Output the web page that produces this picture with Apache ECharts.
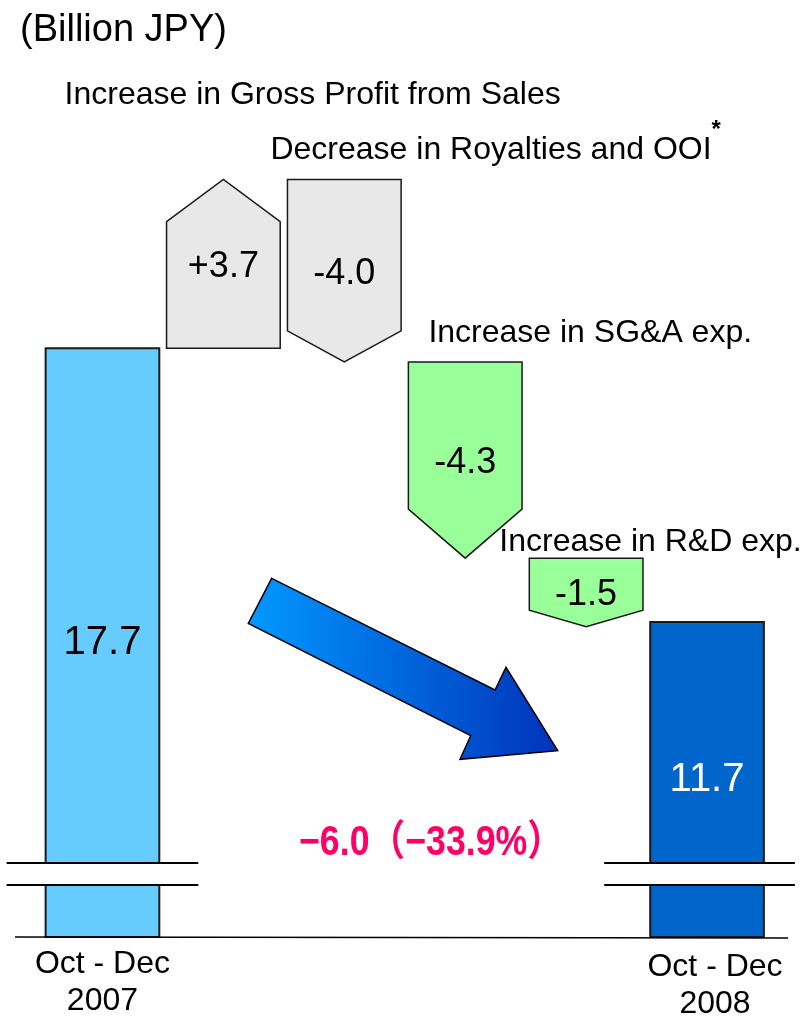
<!DOCTYPE html>
<html>
<head>
<meta charset="utf-8">
<script src="https://cdn.jsdelivr.net/npm/echarts@6/dist/echarts.min.js"></script>
<style>
  html, body { margin: 0; padding: 0; background: #fff; }
  #chart { width: 804px; height: 1021px; }
</style>
</head>
<body>
<div id="chart"></div>
<script>
// values (Billion JPY)
var categories = ['Oct - Dec\n2007', 'Gross Profit', 'Royalties and OOI', 'SG&A exp.', 'R&D exp.', 'Oct - Dec\n2008'];
var startTotal = 17.7;
var endTotal = 11.7;
var stepValues = [3.7, -4.0, -4.3, -1.5];
var stepTitles = ['Increase in Gross Profit from Sales', 'Decrease in Royalties and OOI', 'Increase in SG&A exp.', 'Increase in R&D exp.'];
var changeText = '\u22126.0\uff08\u221233.9%\uff09';

var Y_MIN = 4.8, Y_MAX = 22;
var FONT = '"Liberation Sans", Arial, sans-serif';

// look of the step arrows
var stepColors = ['#e8e8e8', '#e8e8e8', '#99ff99', '#99ff99'];
var headRatio = [0.25, 0.17, 0.25, 0.24];
var titleOffset = [[-102, -84], [-17, -29], [20, -29], [-30, -16]]; // from arrow left / top
var breakReach = [[39, 39], [46, 31]]; // break lines beyond bar edges (left, right)

// rows: [category index, from, to, kind(0 total / 1 step), step index]
var rows = [[0, Y_MIN, startTotal, 0, -1]];
var level = startTotal;
stepValues.forEach(function (v, i) {
    rows.push([i + 1, level, level + v, 1, i]);
    level += v;
});
rows.push([5, Y_MIN, endTotal, 0, -1]);

function renderItem(params, api) {
    var x = api.value(0), from = api.value(1), to = api.value(2);
    var kind = api.value(3), si = api.value(4);
    var w = api.size([1, 0])[0] * 0.94;
    var p0 = api.coord([x, from]);
    var cx = p0[0], yFrom = p0[1], yTo = api.coord([x, to])[1];
    var l = cx - w / 2, r = cx + w / 2;
    var children = [];

    if (kind === 0) {
        var isLast = x === 5;
        var reach = breakReach[isLast ? 1 : 0];
        children.push({
            type: 'rect',
            shape: { x: l, y: yTo, width: w, height: yFrom - yTo },
            style: { fill: isLast ? '#0066cc' : '#66ccff', stroke: '#1a1a1a', lineWidth: 2 }
        });
        // axis break
        var b1 = yFrom - 74, b2 = yFrom - 52;
        children.push({
            type: 'rect',
            shape: { x: l - 2, y: b1, width: w + 4, height: b2 - b1 },
            style: { fill: '#fff' }
        });
        [b1, b2].forEach(function (yy) {
            children.push({
                type: 'line',
                shape: { x1: l - reach[0], y1: yy, x2: r + reach[1], y2: yy },
                style: { stroke: '#000', lineWidth: 2 }
            });
        });
        children.push({
            type: 'text',
            x: cx, y: (yTo + yFrom) / 2,
            style: {
                text: to.toFixed(1), fill: isLast ? '#fff' : '#000',
                font: '40px ' + FONT, align: 'center', verticalAlign: 'middle'
            }
        });
    } else {
        var span = Math.abs(yFrom - yTo);
        var head = span * headRatio[si];
        var pts, top;
        if (to > from) {
            top = yTo;
            pts = [[l, yFrom], [l, yTo + head], [cx, yTo], [r, yTo + head], [r, yFrom]];
        } else {
            top = yFrom;
            pts = [[l, yFrom], [r, yFrom], [r, yTo - head], [cx, yTo], [l, yTo - head]];
        }
        children.push({
            type: 'polygon',
            shape: { points: pts },
            style: { fill: stepColors[si], stroke: '#1a1a1a', lineWidth: 1.5 }
        });
        var v = stepValues[si];
        children.push({
            type: 'text',
            x: cx, y: (yFrom + yTo) / 2 + 3,
            style: {
                text: (v > 0 ? '+' : '') + v.toFixed(1), fill: '#000',
                font: '36px ' + FONT, align: 'center', verticalAlign: 'middle'
            }
        });
        var tt = si === 1 ? '{t|' + stepTitles[si] + '}{s|*}' : '{t|' + stepTitles[si] + '}';
        children.push({
            type: 'text',
            x: l + titleOffset[si][0], y: top + titleOffset[si][1],
            style: {
                text: tt, align: 'left', verticalAlign: 'middle',
                rich: {
                    t: { fontSize: 32, fontFamily: FONT, color: '#000', lineHeight: 64 },
                    s: { fontSize: 24, fontWeight: 'bold', fontFamily: FONT, color: '#000', verticalAlign: 'top', lineHeight: 24 }
                }
            }
        });
    }
    return { type: 'group', children: children };
}

var chart = echarts.init(document.getElementById('chart'));
var option = {
    animation: false,
    backgroundColor: '#fff',
    grid: { left: 42, right: 36.5, top: 152, bottom: 84 },
    xAxis: {
        type: 'category',
        data: categories,
        axisLine: { show: false },
        axisTick: { show: false },
        axisLabel: {
            interval: 0,
            margin: 9,
            formatter: function (val, idx) {
                if (idx === 0) return '{a|Oct - Dec}\n{a|2007}';
                if (idx === 5) return '{b|Oct - Dec}\n{b|2008}';
                return '';
            },
            rich: {
                a: { fontSize: 32, fontFamily: FONT, color: '#000', lineHeight: 37 },
                b: { fontSize: 32, fontFamily: FONT, color: '#000', lineHeight: 37, padding: [5, 0, 0, 16] }
            }
        }
    },
    yAxis: {
        type: 'value', min: Y_MIN, max: Y_MAX,
        show: false, splitLine: { show: false }
    },
    series: [{
        type: 'custom',
        renderItem: renderItem,
        encode: { x: 0, y: [1, 2] },
        data: rows,
        z: 3
    }],
    graphic: [
        {
            type: 'text', left: 20, top: 12,
            style: { text: '(Billion JPY)', font: '38px ' + FONT, fill: '#000' }
        },
        {
            type: 'polygon', z: 10,
            shape: {
                points: [[271.7, 578.3], [495, 690], [506, 667.3], [557.7, 750.7],
                         [460, 759.3], [470.7, 735.7], [248.3, 623.3]]
            },
            style: {
                fill: new echarts.graphic.LinearGradient(0, 0, 1, 0, [
                    { offset: 0, color: '#0099ff' },
                    { offset: 1, color: '#0033bb' }
                ]),
                stroke: '#000', lineWidth: 1.5
            }
        },
        {
            type: 'text', z: 10, x: 431, y: 843, scaleX: 0.85,
            style: {
                text: changeText, fill: '#ff0066',
                font: 'bold 42px "Liberation Sans", "Noto Sans CJK JP", sans-serif',
                align: 'center', verticalAlign: 'middle'
            }
        }
    ]
};
chart.setOption(option);

// baseline under the bars, placed from the axis scale
var y0 = chart.convertToPixel({ yAxisIndex: 0 }, Y_MIN);
chart.setOption({
    graphic: option.graphic.concat([{
        type: 'line', z: 5,
        shape: { x1: 15, y1: y0, x2: 788, y2: y0 + 1 },
        style: { stroke: '#000', lineWidth: 1.5 }
    }])
});
</script>
</body>
</html>
